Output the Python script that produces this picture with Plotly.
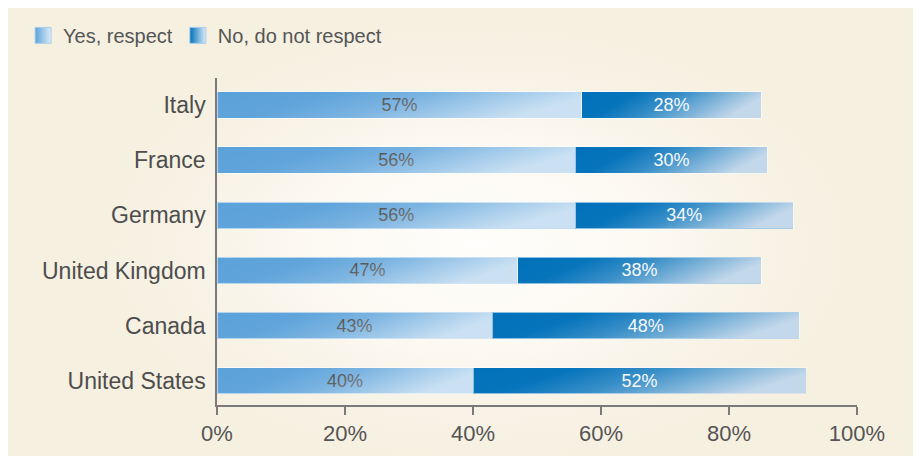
import base64
import plotly.graph_objects as go

# ---- data (top-to-bottom as shown) ----
countries = ["Italy", "France", "Germany", "United Kingdom", "Canada", "United States"]
yes_respect = [57, 56, 56, 47, 43, 40]
no_respect = [28, 30, 34, 38, 48, 52]
x_ticks = [0, 20, 40, 60, 80, 100]
x_tick_labels = ["0%", "20%", "40%", "60%", "80%", "100%"]
series_names = ["Yes, respect", "No, do not respect"]

YES_COLOR = "#5CA2DA"
NO_COLOR = "#0071BA"
FONT = "Liberation Sans, Arial, sans-serif"
BAR_W = 0.48


def svg_uri(svg):
    return "data:image/svg+xml;base64," + base64.b64encode(svg.encode()).decode()


def lin_grad(color, stops):
    st = "".join(
        f"<stop offset='{o}' stop-color='{color}' stop-opacity='{a}'/>" for o, a in stops
    )
    return svg_uri(
        "<svg xmlns='http://www.w3.org/2000/svg' width='200' height='20' viewBox='0 0 200 20' "
        "preserveAspectRatio='none'><defs><linearGradient id='g' x1='0' y1='0' x2='1' y2='0.25'>"
        + st
        + "</linearGradient></defs><rect width='200' height='20' fill='url(#g)'/></svg>"
    )


YES_OVER = lin_grad("#ffffff", [(0, 0), (0.3, 0.02), (0.55, 0.18), (1, 0.68)])
NO_OVER = lin_grad("#E6EAF3", [(0, 0), (0.3, 0.03), (0.55, 0.25), (1, 0.85)])

BG = svg_uri(
    "<svg xmlns='http://www.w3.org/2000/svg' width='400' height='240' viewBox='0 0 400 240' "
    "preserveAspectRatio='none'><defs><radialGradient id='r' cx='0.5' cy='0.5' r='0.5'>"
    "<stop offset='0' stop-color='#FFFEFC' stop-opacity='1'/>"
    "<stop offset='0.45' stop-color='#FDFAF4' stop-opacity='0.85'/>"
    "<stop offset='1' stop-color='#F6F0E1' stop-opacity='0'/>"
    "</radialGradient></defs><rect width='400' height='240' fill='url(#r)'/></svg>"
)

ypos = list(range(len(countries)))
yes_text = [f"{v}%" for v in yes_respect]
no_text = [f"{v}%" for v in no_respect]

fig = go.Figure()
fig.add_trace(go.Bar(
    y=ypos, x=yes_respect, orientation="h", name=series_names[0], showlegend=False,
    width=BAR_W, marker=dict(color=YES_COLOR, line=dict(color="rgba(255,255,255,0.55)", width=1)),
    text=yes_text, textposition="inside", insidetextanchor="middle",
    textfont=dict(family=FONT, size=18, color="#3c3c3c"), hoverinfo="skip",
))
fig.add_trace(go.Bar(
    y=ypos, x=no_respect, orientation="h", name=series_names[1], showlegend=False,
    width=BAR_W, marker=dict(color=NO_COLOR, line=dict(color="rgba(255,255,255,0.55)", width=1)),
    text=no_text, textposition="inside", insidetextanchor="middle",
    textfont=dict(family=FONT, size=18, color="#ffffff"), hoverinfo="skip",
))

# legend-only entries
for name, col in zip(series_names, [YES_COLOR, NO_COLOR]):
    fig.add_trace(go.Scatter(
        x=[None], y=[None], mode="markers", name=name,
        marker=dict(symbol="square", size=16, color=col,
                    gradient=dict(type="horizontal", color="#DDEBF6"),
                    line=dict(color="#A9CFEC", width=1)),
    ))

images = [dict(source=BG, xref="paper", yref="paper", x=-0.24, y=1.24,
               sizex=1.3, sizey=1.5, sizing="stretch", layer="below",
               xanchor="left", yanchor="top")]
for i in range(len(countries)):
    images.append(dict(source=YES_OVER, xref="x", yref="y", x=0, y=ypos[i],
                       sizex=yes_respect[i], sizey=BAR_W, sizing="stretch",
                       xanchor="left", yanchor="middle", layer="above"))
    images.append(dict(source=NO_OVER, xref="x", yref="y", x=yes_respect[i], y=ypos[i],
                       sizex=no_respect[i], sizey=BAR_W, sizing="stretch",
                       xanchor="left", yanchor="middle", layer="above"))

fig.update_layout(
    width=913, height=448,
    barmode="stack", bargap=0.52,
    paper_bgcolor="#F6F0E1", plot_bgcolor="rgba(0,0,0,0)",
    margin=dict(l=209, r=64, t=70, b=51, autoexpand=False),
    font=dict(family=FONT, color="#555555"),
    images=images,
    legend=dict(orientation="h", x=-0.303, y=1.19, xanchor="left", yanchor="top",
                font=dict(family=FONT, size=20, color="#555555"),
                bgcolor="rgba(0,0,0,0)", itemsizing="trace", traceorder="normal"),
    xaxis=dict(range=[0, 100], tickvals=x_ticks, ticktext=x_tick_labels,
               showgrid=False, zeroline=False, showline=True, linecolor="#7a7a7a",
               linewidth=1.5, ticks="outside", ticklen=8, tickwidth=1.5,
               tickcolor="#7a7a7a", tickfont=dict(family=FONT, size=22, color="#555555"),
               fixedrange=True, automargin=False),
    yaxis=dict(range=[5.44, -0.49], tickvals=ypos, ticktext=countries,
               showgrid=False, zeroline=False, showline=True, linecolor="#7a7a7a",
               linewidth=1.5, ticks="", ticklabelstandoff=5,
               tickfont=dict(family=FONT, size=23, color="#4d4d4d"), fixedrange=True,
               automargin=False),
)

fig.write_html("out.html")
